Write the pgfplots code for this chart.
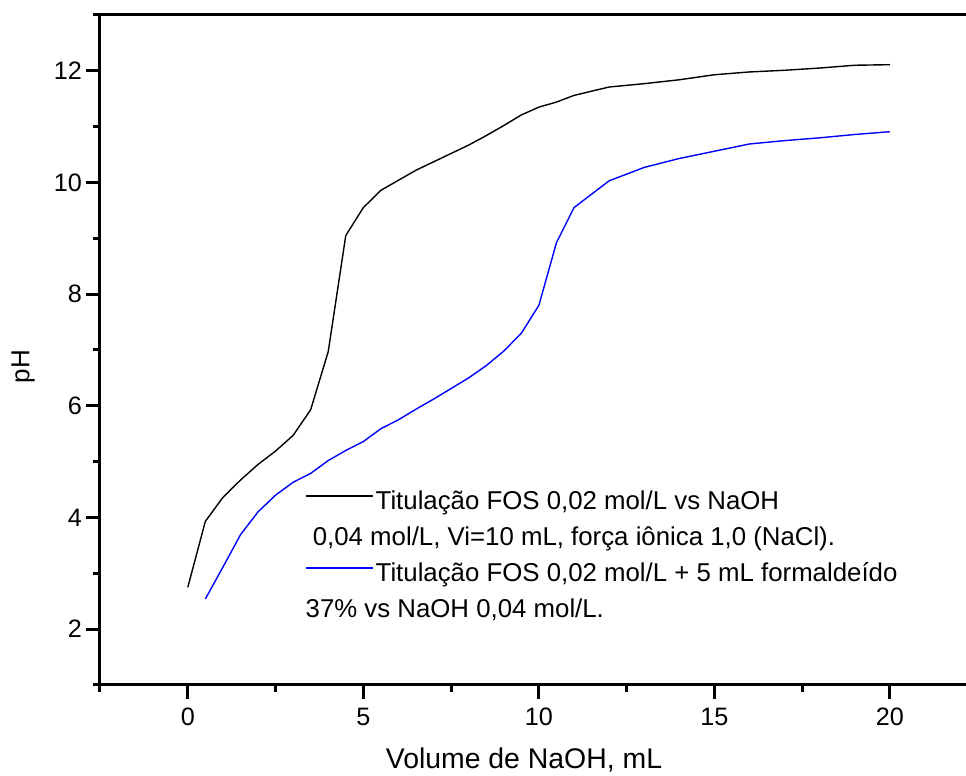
\documentclass[border=0pt]{standalone}
\usepackage{pgfplots}
\pgfplotsset{compat=1.18}
\usepackage{fontspec}
\setmainfont{Liberation Sans}

\begin{document}
\fontsize{12.9}{15.5}\selectfont
\begin{tikzpicture}
\begin{axis}[
  scale only axis,
  width=433pt, height=335pt,
  xmin=-2.5, xmax=22.165, ymin=1, ymax=13,
  axis x line*=bottom, axis y line*=left,
  axis line style={-, line width=1.5pt},
  every tick/.style={black, line width=1.5pt},
  tick align=outside,
  major tick length=7pt, minor tick length=3.5pt,
  xtick={0,5,10,15,20},
  minor xtick={-2.5,2.5,7.5,12.5,17.5},
  ytick={2,4,6,8,10,12},
  minor ytick={1,3,5,7,9,11,13},
  /pgf/number format/assume math mode=true,
  ticklabel style={font=\fontsize{12.6}{15}\selectfont},
  yticklabel style={xshift=2.5pt},
  xlabel={Volume de NaOH, mL},
  ylabel={pH},
  xlabel style={font=\fontsize{14.2}{17}\selectfont, at={(axis description cs:0.4896,-0.1239)}, anchor=base},
  ylabel style={font=\fontsize{13}{15.5}\selectfont, at={(axis description cs:-0.0889,0.475)}, anchor=center},
  clip=false,
  legend cell align=left,
  legend image code/.code={\draw[#1, line width=0.75pt] (0pt,3.25pt) -- (33.5pt,3.25pt);},
  legend style={at={(axis cs:3.333,4.55)}, anchor=north west, draw=none, fill=none,
    inner sep=0pt, row sep=2.5pt, column sep=0pt,
    nodes={inner sep=1pt, text height=10pt, text depth=3.5pt, font=\fontsize{12.9}{15.5}\selectfont}},
]
\addplot[black, line width=0.7pt] coordinates {
(0,2.75) (0.5,3.93) (1,4.36) (1.5,4.67) (2,4.95) (2.5,5.19) (3,5.47) (3.5,5.93)
(4,6.97) (4.5,9.05) (5,9.55) (5.5,9.86) (6,10.04) (6.5,10.22) (7,10.37) (8,10.67)
(8.5,10.84) (9,11.02) (9.5,11.21) (10,11.35) (10.5,11.44) (11,11.56) (12,11.71)
(13,11.77) (14,11.84) (15,11.93) (16,11.98) (17,12.01) (18,12.05) (19,12.1) (20,12.11)
};
\addlegendentry{Titulação FOS 0,02 mol/L vs NaOH}
\addlegendimage{empty legend}
\addlegendentry{\hspace*{-35pt} 0,04 mol/L, Vi=10 mL, força iônica 1,0 (NaCl).}
\addplot[color=blue, line width=0.7pt] coordinates {
(0.5,2.54) (1,3.11) (1.5,3.69) (2,4.1) (2.5,4.4) (3,4.63) (3.5,4.79) (4,5.02)
(4.5,5.2) (5,5.36) (5.5,5.59) (6,5.75) (6.5,5.94) (7,6.12) (7.5,6.31) (8,6.5)
(8.5,6.72) (9,6.98) (9.5,7.30) (10,7.80) (10.5,8.92) (11,9.55) (12,10.03)
(13,10.27) (14,10.43) (15,10.56) (16,10.69) (17,10.75) (18,10.8) (19,10.86) (20,10.91)
};
\addlegendentry{Titulação FOS 0,02 mol/L + 5 mL formaldeído}
\addlegendimage{empty legend}
\addlegendentry{\hspace*{-35pt}37\% vs NaOH 0,04 mol/L.}
\draw[line width=1.5pt] (rel axis cs:0,1) -- (rel axis cs:1,1);
\coordinate (SW) at (rel axis cs:0,0);
\coordinate (NE) at (rel axis cs:1,1);
\end{axis}
\pgfresetboundingbox
\path ([shift={(-50pt,-45.5pt)}]SW) rectangle ([shift={(0pt,7.5pt)}]NE);
\end{tikzpicture}
\end{document}
